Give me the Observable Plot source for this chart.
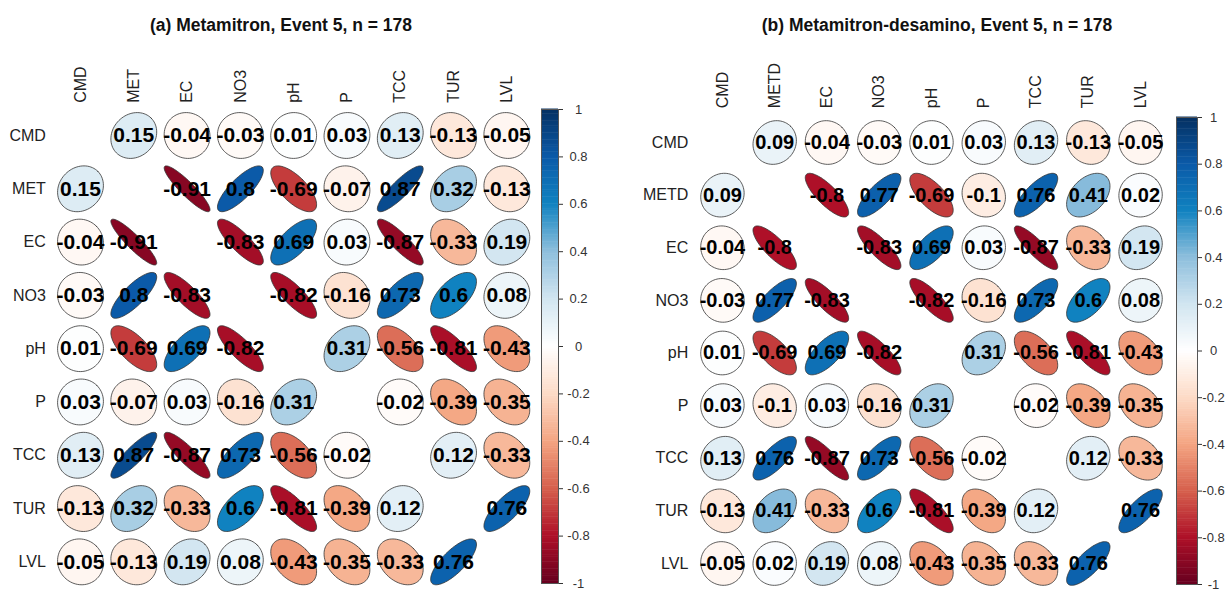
<!DOCTYPE html>
<html><head><meta charset="utf-8">
<script src="https://cdn.jsdelivr.net/npm/d3@7"></script>
<script src="https://cdn.jsdelivr.net/npm/@observablehq/plot@0.6"></script>
<style>
body{margin:0;background:#fff;font-family:"Liberation Sans",Arial,sans-serif;}
#root{position:relative;width:1225px;height:592px;overflow:hidden;background:#fff;}
.title{position:absolute;font-weight:bold;font-size:17.5px;color:#111;white-space:nowrap;transform:translateX(-50%);line-height:20px;}
.abs{position:absolute;}
</style></head><body><div id="root"></div>
<script>
// ---- data ----
const titleA = "(a) Metamitron, Event 5, n = 178";
const titleB = "(b) Metamitron-desamino, Event 5, n = 178";
const varsA = ["CMD","MET","EC","NO3","pH","P","TCC","TUR","LVL"];
const varsB = ["CMD","METD","EC","NO3","pH","P","TCC","TUR","LVL"];
const corrA = [
  [null, 0.15, -0.04, -0.03, 0.01, 0.03, 0.13, -0.13, -0.05],
  [0.15, null, -0.91, 0.8, -0.69, -0.07, 0.87, 0.32, -0.13],
  [-0.04, -0.91, null, -0.83, 0.69, 0.03, -0.87, -0.33, 0.19],
  [-0.03, 0.8, -0.83, null, -0.82, -0.16, 0.73, 0.6, 0.08],
  [0.01, -0.69, 0.69, -0.82, null, 0.31, -0.56, -0.81, -0.43],
  [0.03, -0.07, 0.03, -0.16, 0.31, null, -0.02, -0.39, -0.35],
  [0.13, 0.87, -0.87, 0.73, -0.56, -0.02, null, 0.12, -0.33],
  [-0.13, 0.32, -0.33, 0.6, -0.81, -0.39, 0.12, null, 0.76],
  [-0.05, -0.13, 0.19, 0.08, -0.43, -0.35, -0.33, 0.76, null]
];
const corrB = [
  [null, 0.09, -0.04, -0.03, 0.01, 0.03, 0.13, -0.13, -0.05],
  [0.09, null, -0.8, 0.77, -0.69, -0.1, 0.76, 0.41, 0.02],
  [-0.04, -0.8, null, -0.83, 0.69, 0.03, -0.87, -0.33, 0.19],
  [-0.03, 0.77, -0.83, null, -0.82, -0.16, 0.73, 0.6, 0.08],
  [0.01, -0.69, 0.69, -0.82, null, 0.31, -0.56, -0.81, -0.43],
  [0.03, -0.1, 0.03, -0.16, 0.31, null, -0.02, -0.39, -0.35],
  [0.13, 0.76, -0.87, 0.73, -0.56, -0.02, null, 0.12, -0.33],
  [-0.13, 0.41, -0.33, 0.6, -0.81, -0.39, 0.12, null, 0.76],
  [-0.05, 0.02, 0.19, 0.08, -0.43, -0.35, -0.33, 0.76, null]
];
const colorbarTicks = [-1, -0.8, -0.6, -0.4, -0.2, 0, 0.2, 0.4, 0.6, 0.8, 1];
const colorStops = ["#67001F","#AE1028","#D6604D","#F4A582","#FDDBC7","#FFFFFF","#D1E5F0","#8DBEDC","#1082C0","#0B5AA8","#053061"];

// ---- helpers ----
const FONT = '"Liberation Sans", Arial, sans-serif';
const colorScale = {type: "linear", domain: colorbarTicks, range: colorStops};
const root = document.getElementById("root");

function ellipsePoints(corr, size) {
  const pts = [];
  const N = 80;
  corr.forEach((row, i) => row.forEach((r, j) => {
    if (r === null) return;
    const a = Math.acos(r) / 2;
    for (let n = 0; n <= N; n++) {
      const k = 2 * Math.PI * n / N;
      pts.push({id: i * 100 + j, r, x: j + size * Math.cos(k + a) / 2, y: i - size * Math.cos(k - a) / 2});
    }
  }));
  return pts;
}
function cellLabels(corr) {
  const out = [];
  corr.forEach((row, i) => row.forEach((r, j) => { if (r !== null) out.push({x: j, y: i, r}); }));
  return out;
}
function place(el, left, top) {
  const d = document.createElement("div");
  d.className = "abs"; d.style.left = left + "px"; d.style.top = top + "px";
  d.appendChild(el); root.appendChild(d);
}
function title(text, cx, top) {
  const d = document.createElement("div");
  d.className = "title"; d.textContent = text;
  d.style.left = cx + "px"; d.style.top = top + "px";
  root.appendChild(d);
}

function matrix(vars, corr, o) {
  const idx = d3.range(vars.length);
  return Plot.plot({
    width: o.width, height: o.height,
    marginLeft: o.ml, marginRight: o.mr, marginTop: o.mt, marginBottom: o.mb,
    x: {domain: [-0.5, vars.length - 0.5]},
    y: {domain: [vars.length - 0.5, -0.5]},
    color: colorScale,
    style: {fontFamily: FONT, background: "transparent", overflow: "visible", color: "#222"},
    marks: [
      Plot.axisX({anchor: "top", ticks: idx, tickFormat: i => vars[i], tickSize: 0, tickPadding: o.xpad, tickRotate: -90, fontSize: 16, label: null}),
      Plot.axisY({anchor: "left", ticks: idx, tickFormat: i => vars[i], tickSize: 0, tickPadding: 8, fontSize: 16, label: null}),
      Plot.line(ellipsePoints(corr, o.size), {x: "x", y: "y", z: "id", fill: "r", stroke: "#333", strokeWidth: 0.8, curve: "linear-closed"}),
      Plot.text(cellLabels(corr), {x: "x", y: "y", text: d => String(d.r), fontWeight: "bold", fontSize: o.fs, fill: "#000"})
    ]
  });
}

function colorbar(o) {
  const steps = d3.range(-1, 1, 0.01);
  return Plot.plot({
    width: o.width, height: o.height,
    marginLeft: o.ml, marginRight: o.mr, marginTop: o.mt, marginBottom: o.mb,
    y: {domain: [-1, 1]},
    color: colorScale,
    style: {fontFamily: FONT, background: "transparent", overflow: "visible", color: "#333"},
    marks: [
      Plot.rect(steps, {y1: d => d, y2: d => d + 0.012, fill: d => d + 0.005}),
      Plot.frame({stroke: "#555", strokeWidth: 1}),
      Plot.axisY({anchor: "right", ticks: colorbarTicks, tickFormat: d => String(+d.toFixed(1)), tickSize: 4, tickPadding: o.pad, textAnchor: "middle", fontSize: 13, label: null})
    ]
  });
}

title(titleA, 281, 15);
title(titleB, 937, 15);

place(matrix(varsA, corrA, {width: 540, height: 552, ml: 53.35, mr: 7, mt: 68.35, mb: 4, xpad: 6, size: 0.86, fs: 21}), 0, 40);
place(matrix(varsB, corrB, {width: 580, height: 552, ml: 95.8, mr: 13.8, mt: 75.7, mb: 2.7, xpad: 8, size: 0.83, fs: 20}), 600, 40);
place(colorbar({width: 70, height: 500, ml: 11, mr: 42, mt: 14, mb: 12, pad: 16}), 530, 95);
place(colorbar({width: 60, height: 492, ml: 11, mr: 28, mt: 17, mb: 8, pad: 12}), 1165, 100);
</script></body></html>
